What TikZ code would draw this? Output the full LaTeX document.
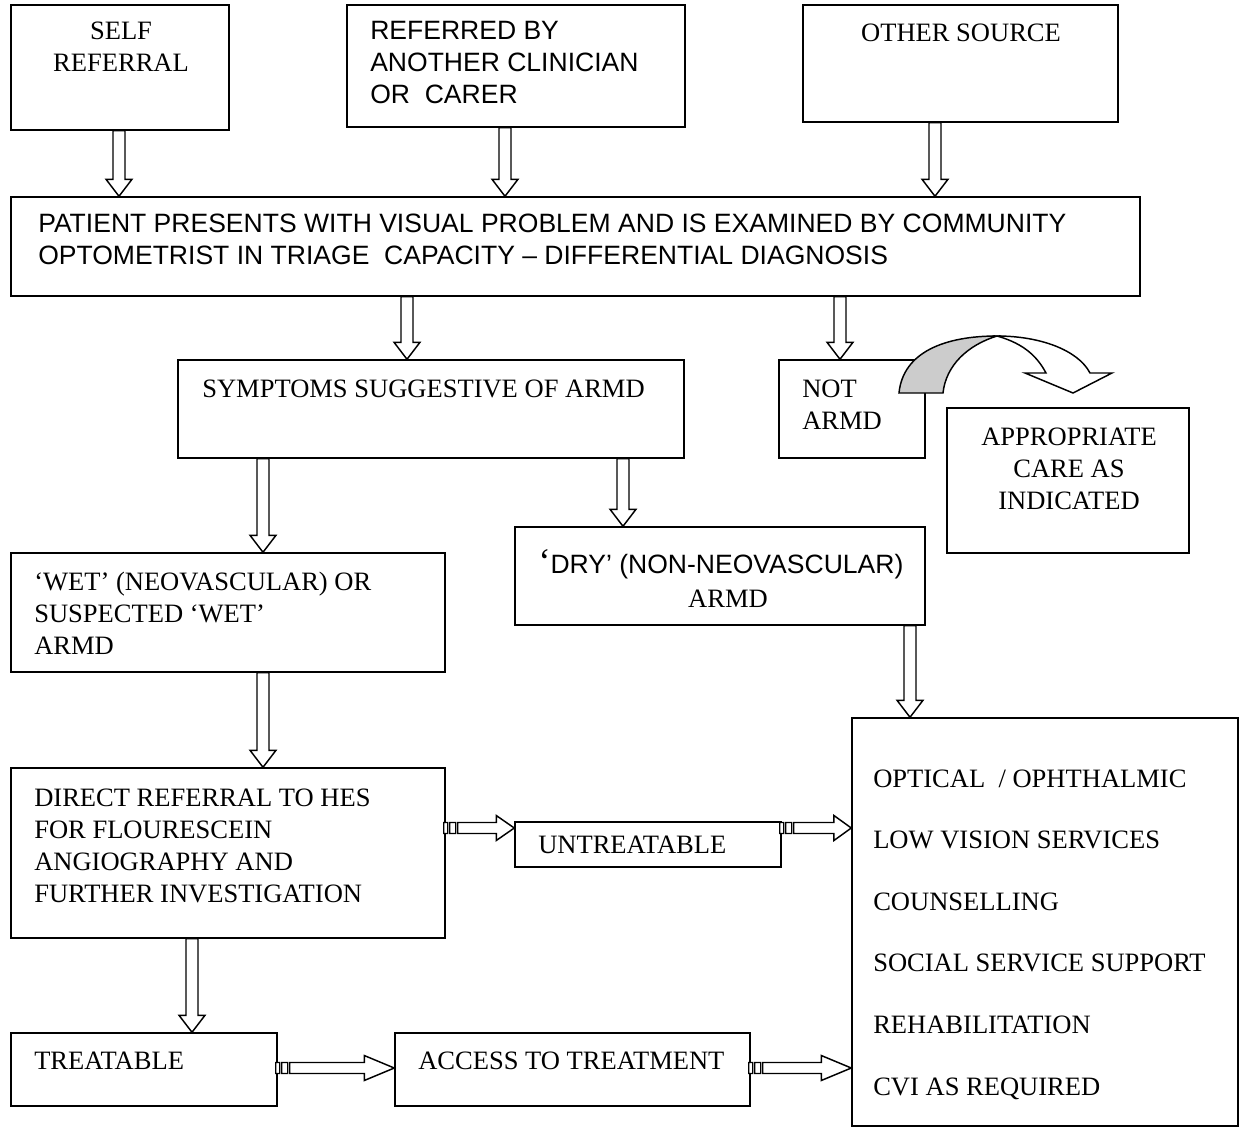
\documentclass[tikz,border=0pt]{standalone}
\usepackage{fontspec}
\setmainfont{Liberation Serif}
\newfontfamily\arialf{Liberation Sans}
\usetikzlibrary{calc,fit}
\newcommand\tl[1]{\begin{tabular}[t]{@{}l@{}}#1\end{tabular}}
\newcommand\tc[1]{\begin{tabular}[t]{@{}c@{}}#1\end{tabular}}
% vertical block arrow: start coordinate, end (tip) coordinate
\newcommand\vblk[2]{\draw[blk] let \p1=#1, \p2=#2 in
 (\x1-4.5pt,\y1) -- (\x1+4.5pt,\y1) -- (\x1+4.5pt,\y2+12.75pt) -- (\x1+9.75pt,\y2+12.75pt)
 -- (\x1,\y2) -- (\x1-9.75pt,\y2+12.75pt) -- (\x1-4.5pt,\y2+12.75pt) -- cycle;}
% striped horizontal block arrow: start, tip, head length
\newcommand\hblk[3]{\draw[blk] let \p1=#1, \p2=#2 in
 (\x1-1.5pt,\y1-4.125pt) rectangle (\x1+1.5pt,\y1+4.125pt)
 (\x1+3pt,\y1-4.125pt) rectangle (\x1+7.5pt,\y1+4.125pt)
 (\x1+9pt,\y1+4.125pt) -- (\x2-#3,\y1+4.125pt) -- (\x2-#3,\y1+9.375pt) -- (\x2,\y1)
 -- (\x2-#3,\y1-9.375pt) -- (\x2-#3,\y1-4.125pt) -- (\x1+9pt,\y1-4.125pt) -- cycle;}
\begin{document}
\begin{tikzpicture}[x=0.75pt,y=-0.75pt,
  box/.style={draw, line width=1.1pt, inner sep=0pt, fill=white},
  blk/.style={draw, line width=1.1pt, fill=white, line join=miter},
  txt/.style={inner sep=0pt, font=\fontsize{19.9}{24}\selectfont},
  sans/.style={inner sep=0pt, font=\arialf\fontsize{19.9}{24}\selectfont},
  wide/.style={inner sep=0pt, font=\fontsize{19.9}{46.2}\selectfont}]
\useasboundingbox (0,0) rectangle (1243,1128);

% boxes
\node[box, fit={(11,5) (229,130)}] (self) {};
\node[box, fit={(347,5) (685,127)}] (refd) {};
\node[box, fit={(803,5) (1118,122)}] (other) {};
\node[box, fit={(11,197) (1140,296)}] (patient) {};
\node[box, fit={(178,360) (684,458)}] (symp) {};
\node[box, fit={(779,360) (925,458)}] (notarmd) {};
\node[box, fit={(947,408) (1189,553)}] (care) {};
\node[box, fit={(11,553) (445,672)}] (wet) {};
\node[box, fit={(515,527) (925,625)}] (dry) {};
\node[box, fit={(11,768) (445,938)}] (direct) {};
\node[box, fit={(515,822) (781,867)}] (untreat) {};
\node[box, fit={(852,718) (1238,1126)}] (serv) {};
\node[box, fit={(11,1033) (277,1106)}] (treat) {};
\node[box, fit={(395,1033) (750,1106)}] (access) {};

% texts
\node[txt, anchor=base] (tself) at (121,39) {\tc{SELF\\REFERRAL}};
\node[sans, anchor=base west] (trefd) at (370,39) {\tl{REFERRED BY\\ANOTHER CLINICIAN\\OR \ CARER}};
\node[txt, anchor=base] (tother) at (961,41) {OTHER SOURCE};
\node[sans, anchor=base west] (tpatient) at (38,232) {\tl{PATIENT PRESENTS WITH VISUAL PROBLEM AND IS EXAMINED BY COMMUNITY\\OPTOMETRIST IN TRIAGE \ CAPACITY – DIFFERENTIAL DIAGNOSIS}};
\node[txt, anchor=base west] (tsymp) at (202,397) {SYMPTOMS SUGGESTIVE OF ARMD};
\node[txt, anchor=base west] (tnot) at (802,397) {\tl{NOT\\ARMD}};
\node[txt, anchor=base] (tcare) at (1069,445) {\tc{APPROPRIATE\\CARE AS\\INDICATED}};
\node[txt, anchor=base west] (twet) at (34,590) {\tl{‘WET’ (NEOVASCULAR) OR\\SUSPECTED ‘WET’\\ARMD}};
\node[sans, anchor=base] (tdry1) at (721,573) {{\rmfamily\fontsize{27}{24}\selectfont ‘}DRY’ (NON-NEOVASCULAR)};
\node[txt, anchor=base] (tdry2) at (728,607) {ARMD};
\node[txt, anchor=base west] (tdirect) at (34,806) {\tl{DIRECT REFERRAL TO HES\\FOR FLOURESCEIN\\ANGIOGRAPHY AND\\FURTHER INVESTIGATION}};
\node[txt, anchor=base west] (tuntreat) at (538,853) {UNTREATABLE};
\node[wide, anchor=base west] (tserv) at (873,787) {\tl{OPTICAL \ / OPHTHALMIC\\LOW VISION SERVICES\\COUNSELLING\\SOCIAL SERVICE SUPPORT\\REHABILITATION\\CVI AS REQUIRED}};
\node[txt, anchor=base west] (ttreat) at (34,1069) {TREATABLE};
\node[txt, anchor=base west] (taccess) at (418,1069) {ACCESS TO TREATMENT};

% arrow positions
\coordinate (ax1) at (119,0);
\coordinate (ax2) at (505,0);
\coordinate (ax3) at (935,0);
\coordinate (ax4) at (407,0);
\coordinate (ax5) at (840,0);
\coordinate (ax6) at (263,0);
\coordinate (ax7) at (623,0);
\coordinate (ax9) at (910,0);
\coordinate (ax10) at (192,0);
\coordinate (hy1) at (0,828);
\coordinate (hy2) at (0,1068);

\vblk{(self.south -| ax1)}{(patient.north -| ax1)}
\vblk{(refd.south -| ax2)}{(patient.north -| ax2)}
\vblk{(other.south -| ax3)}{(patient.north -| ax3)}
\vblk{(patient.south -| ax4)}{(symp.north -| ax4)}
\vblk{(patient.south -| ax5)}{(notarmd.north -| ax5)}
\vblk{(symp.south -| ax6)}{(wet.north -| ax6)}
\vblk{(symp.south -| ax7)}{(dry.north -| ax7)}
\vblk{(wet.south -| ax6)}{(direct.north -| ax6)}
\vblk{(dry.south -| ax9)}{(serv.north -| ax9)}
\vblk{(direct.south -| ax10)}{(treat.north -| ax10)}

\hblk{(direct.east |- hy1)}{(untreat.west |- hy1)}{13.5pt}
\hblk{(untreat.east |- hy1)}{(serv.west |- hy1)}{13pt}
\hblk{(treat.east |- hy2)}{(access.west |- hy2)}{22.5pt}
\hblk{(access.east |- hy2)}{(serv.west |- hy2)}{22.5pt}

% curved arrow from NOT ARMD to APPROPRIATE CARE
\draw[blk, fill={rgb,255:red,204;green,204;blue,204}] (899,393) .. controls (903,352) and (945,336) .. (997,336)
  .. controls (968,345) and (946,365) .. (943,393) -- cycle;
\draw[blk] (997,336) .. controls (1040,336) and (1078,350) .. (1090,373) -- (1112,373) -- (1073,393)
  -- (1025,373) -- (1046,373) .. controls (1035,352) and (1018,342) .. (997,336) -- cycle;
\end{tikzpicture}
\end{document}
